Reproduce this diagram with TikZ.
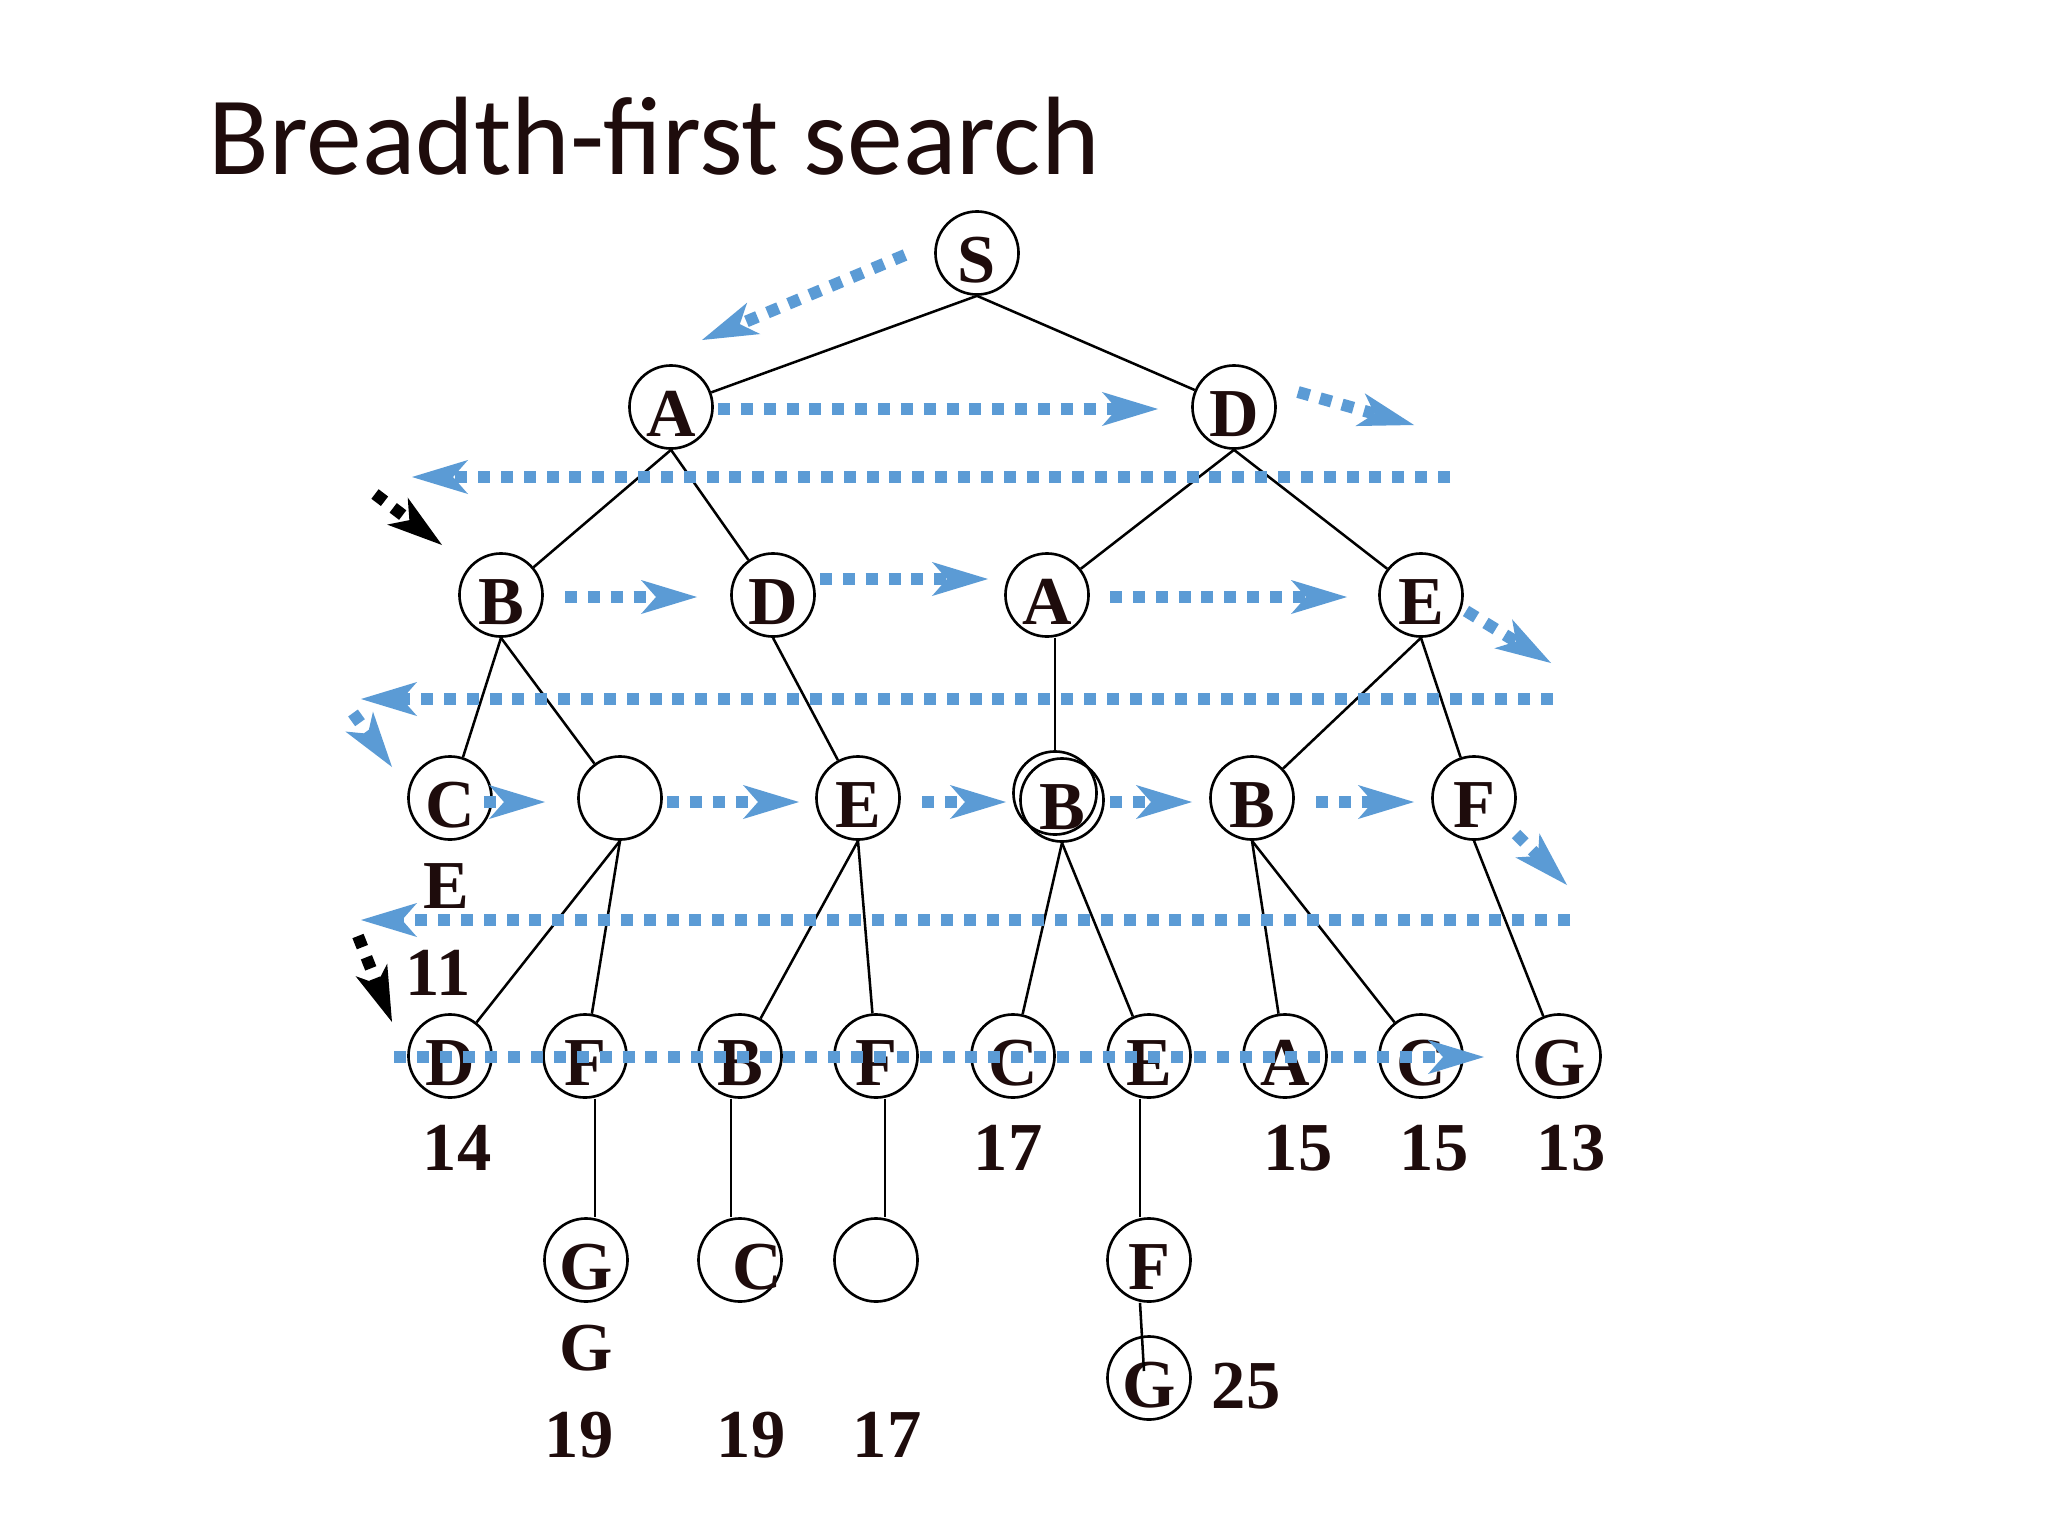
\documentclass[tikz,border=0pt]{standalone}
\usepackage{fontspec}
\setmainfont{Liberation Serif}
\newfontfamily\titlefont{Carlito}
\usetikzlibrary{arrows.meta}
\definecolor{blu}{RGB}{91,155,213}
\definecolor{txt}{RGB}{30,12,12}
\newcommand{\nodefont}{\fontsize{19.5}{20}\selectfont\bfseries}
\tikzset{
  st/.style={circle, draw, line width=0.75pt, minimum size=0.83cm, inner sep=0pt,
    font=\nodefont, text=txt, text height=0.59cm, text depth=0pt},
  lab/.style={font=\nodefont, text=txt, inner sep=0pt, anchor=base},
  edg/.style={line width=0.72pt},
  bdot/.style={draw=blu, line width=3.4pt, dash pattern=on 3.4pt off 3.1pt,
    -{Stealth[length=0.56cm, width=0.34cm, inset=0.15cm, line width=0pt]}},
  kdot/.style={bdot, draw=black}
}
\begin{document}
\begin{tikzpicture}[x=0.01cm, y=-0.01cm]
\useasboundingbox (0,0) rectangle (2048,1536);
\fill[white] (0,0) rectangle (2048,1536);

% title
\node[anchor=base west, font=\titlefont\fontsize{31.7}{32}\selectfont, text=txt, inner sep=0pt] (title) at (208,174) {Breadth-first search};

% nodes
\node[st] (S) at (977,253) {S};
\node[st] (A1) at (671,407) {A};
\node[st] (D1) at (1234,407) {D};
\node[st] (B2) at (501,595) {B};
\node[st] (D2) at (773,595) {D};
\node[st] (A2) at (1047,595) {A};
\node[st] (E2) at (1421,595) {E};
\node[st] (C3) at (450,798) {C};
\node[st] (X3) at (620,798) {};
\node[st] (E3) at (858,798) {E};
\node[st] (Bo3) at (1055,793) {};
\node[st] (Bd3) at (1062,800) {B};
\node[st] (Bb3) at (1252,798) {B};
\node[st] (F3) at (1474,798) {F};
\node[st] (D4) at (450,1056) {D};
\node[st] (F4) at (585,1056) {F};
\node[st] (B4) at (740,1056) {B};
\node[st] (Fb4) at (876,1056) {F};
\node[st] (C4) at (1013,1056) {C};
\node[st] (E4) at (1149,1056) {E};
\node[st] (A4) at (1285,1056) {A};
\node[st] (Cb4) at (1421,1056) {C};
\node[st] (G4) at (1559,1056) {G};
\node[st] (G5) at (586,1260) {G};
\node[st] (C5) at (740,1260) {};
\node[st, draw=none] (C5t) at (757,1260) {C};
\node[st] (X5) at (876,1260) {};
\node[st] (F5) at (1149,1260) {F};
\node[st] (G6) at (1149,1378) {G};

% labels
\node[lab] (lE) at (446,908) {E};
\node[lab] (l11) at (438,995) {11};
\node[lab] (l14) at (457,1170) {14};
\node[lab] (l17a) at (1008,1170) {17};
\node[lab] (l15a) at (1298,1170) {15};
\node[lab] (l15b) at (1434,1170) {15};
\node[lab] (l13) at (1571,1170) {13};
\node[lab] (lG) at (586,1370) {G};
\node[lab] (l19a) at (579,1457) {19};
\node[lab] (l19b) at (751,1457) {19};
\node[lab] (l17b) at (887,1457) {17};
\node[lab] (l25) at (1246,1408) {25};

% tree edges
\draw[edg] (S.south) -- (A1);
\draw[edg] (S.south) -- (D1);
\draw[edg] (A1.south) -- (B2);
\draw[edg] (A1.south) -- (D2);
\draw[edg] (D1.south) -- (A2);
\draw[edg] (D1.south) -- (E2);
\draw[edg] (B2.south) -- (C3);
\draw[edg] (B2.south) -- (X3);
\draw[edg] (D2.south) -- (E3);
\draw[edg] (A2.south -| Bo3.north) -- (Bo3.north);
\draw[edg] (E2.south) -- (Bb3);
\draw[edg] (E2.south) -- (F3);
\draw[edg] (X3.south) -- (D4);
\draw[edg] (X3.south) -- (F4);
\draw[edg] (E3.south) -- (B4);
\draw[edg] (E3.south) -- (Fb4);
\draw[edg] (Bd3.south) -- (C4);
\draw[edg] (Bd3.south) -- (E4);
\draw[edg] (Bb3.south) -- (A4);
\draw[edg] (Bb3.south) -- (Cb4);
\draw[edg] (F3.south) -- (G4);
\draw[edg] ([xshift=0.1cm]F4.south) -- ([xshift=0.1cm]F4.south |- G5.north);
\draw[edg] ([xshift=-0.09cm]B4.south) -- ([xshift=-0.09cm]B4.south |- C5.north);
\draw[edg] ([xshift=0.09cm]Fb4.south) -- ([xshift=0.09cm]Fb4.south |- X5.north);
\draw[edg] ([xshift=-0.09cm]E4.south) -- ([xshift=-0.09cm]E4.south |- F5.north);
\draw[edg] ([xshift=-0.09cm]F5.south) -- ([xshift=-0.05cm,yshift=0.07cm]G6.center);

% search-order arrows
\coordinate (p1s) at (905,255);   \coordinate (p1e) at (702,340);
\coordinate (p2s) at (718,409);   \coordinate (p2e) at (1158,409);
\coordinate (p3s) at (1298,392);  \coordinate (p3e) at (1414,425);
\coordinate (p4s) at (1450,477);  \coordinate (p4e) at (412,477);
\coordinate (k1s) at (375,494);   \coordinate (k1e) at (442,545);
\coordinate (p6s) at (565,597);   \coordinate (p6e) at (697,597);
\coordinate (p7s) at (820,579);   \coordinate (p7e) at (988,579);
\coordinate (p8s) at (1110,597);  \coordinate (p8e) at (1347,597);
\coordinate (p9s) at (1466,611);  \coordinate (p9e) at (1551,663);
\coordinate (p10s) at (1553,699); \coordinate (p10e) at (361,699);
\coordinate (p11s) at (353,713);  \coordinate (p11e) at (392,767);
\coordinate (p12s) at (484,802);  \coordinate (p12e) at (545,802);
\coordinate (p13s) at (667,802);  \coordinate (p13e) at (799,802);
\coordinate (p14s) at (922,802);  \coordinate (p14e) at (1006,802);
\coordinate (p15s) at (1110,802); \coordinate (p15e) at (1192,802);
\coordinate (p16s) at (1316,802); \coordinate (p16e) at (1414,802);
\coordinate (p17s) at (1516,834); \coordinate (p17e) at (1567,885);
\coordinate (p18s) at (1570,920); \coordinate (p18e) at (361,920);
\coordinate (k2s) at (358,936);   \coordinate (k2e) at (392,1022);
\coordinate (p20s) at (394,1057); \coordinate (p20e) at (1484,1057);

\draw[bdot] (p1s) -- (p1e);
\draw[bdot] (p2s) -- (p2e);
\draw[bdot] (p3s) -- (p3e);
\draw[bdot] (p4s) -- (p4e);
\draw[kdot] (k1s) -- (k1e);
\draw[bdot] (p6s) -- (p6e);
\draw[bdot] (p7s) -- (p7e);
\draw[bdot] (p8s) -- (p8e);
\draw[bdot] (p9s) -- (p9e);
\draw[bdot] (p10s) -- (p10e);
\draw[bdot] (p11s) -- (p11e);
\draw[bdot] (p12s) -- (p12e);
\draw[bdot] (p13s) -- (p13e);
\draw[bdot] (p14s) -- (p14e);
\draw[bdot] (p15s) -- (p15e);
\draw[bdot] (p16s) -- (p16e);
\draw[bdot] (p17s) -- (p17e);
\draw[bdot] (p18s) -- (p18e);
\draw[kdot] (k2s) -- (k2e);
\draw[bdot] (p20s) -- (p20e);
\end{tikzpicture}
\end{document}
